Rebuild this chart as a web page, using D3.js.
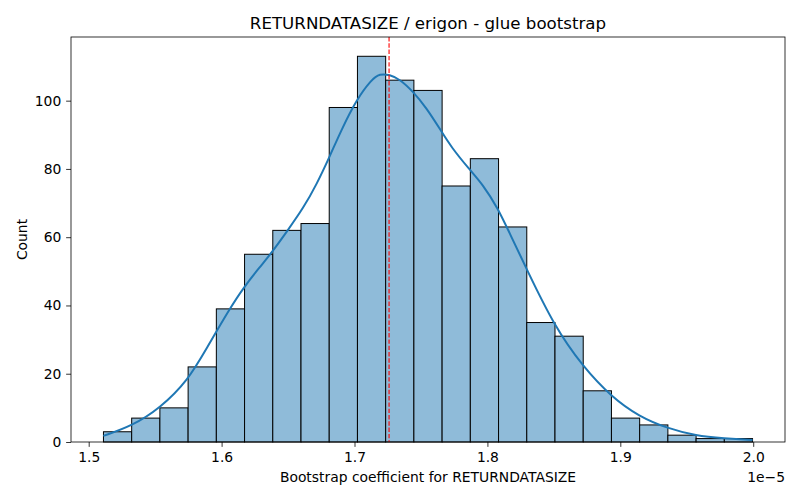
<html>
<head>
	<script src="https://d3js.org/d3.v7.min.js"></script>
	<style>
		body { margin: 0; background: #fff; overflow: hidden; }
		svg { display: block; }
		text { font-family: "DejaVu Sans", sans-serif; fill: #000; }
	</style>
</head>
<body>
	<script>
		// histogram counts (bins are equal width between dataMin and dataMax, in units of 1e-5)
		var counts = [3, 7, 10, 22, 39, 55, 62, 64, 98, 113, 106, 103, 75, 83, 63, 35, 31, 15, 7, 5, 2, 1, 1];
		var dataMin = 1.5111;
		var dataMax = 1.9995;
		var meanValue = 1.7260;

		// kde curve
		var kdeX = [1.511, 1.5325, 1.5537, 1.575, 1.5888, 1.6063, 1.6163, 1.629, 1.6364, 1.6501, 1.6614, 1.6714, 1.6814, 1.6902, 1.7015, 1.7128, 1.719, 1.7265, 1.734, 1.744, 1.7541, 1.7641, 1.7729, 1.7866, 1.7966, 1.8079, 1.8167, 1.8292, 1.8505, 1.8718, 1.8931, 1.9143, 1.9356, 1.9569, 1.9782, 1.9995];
		var kdeY = [1.8, 4.7, 9.9, 18.2, 27.5, 39.2, 45.1, 51.4, 54.8, 62.2, 68.5, 75.4, 83.7, 91.5, 100.3, 106.2, 107.9, 107.6, 106.3, 102.7, 97.9, 91.8, 86.3, 79.8, 75.4, 68.5, 61.2, 50.9, 33.8, 22.1, 13.3, 7.4, 4.0, 1.8, 1.1, 0.6];

		var xTicks = [1.5, 1.6, 1.7, 1.8, 1.9, 2.0];
		var yTicks = [0, 20, 40, 60, 80, 100];

		var outerWidth = 800;
		var outerHeight = 500;
		var margin = { left: 71, top: 37, right: 15, bottom: 58 };
		var innerWidth = outerWidth - margin.left - margin.right;
		var innerHeight = outerHeight - margin.top - margin.bottom;

		var barColor = "#8fbbd9";
		var lineColor = "#1f77b4";
		var tickLen = 4.86;
		var fontSize = 13.89;

		var svg = d3.select("body").append("svg")
			.attr("width", outerWidth)
			.attr("height", outerHeight);

		var g = svg.append("g")
			.attr("transform", "translate(" + margin.left + "," + margin.top + ")");

		var binWidth = (dataMax - dataMin) / counts.length;
		var bins = counts.map(function(c, i) {
			return { x0: dataMin + i * binWidth, x1: dataMin + (i + 1) * binWidth, count: c };
		});

		var pad = (dataMax - dataMin) * 0.05;
		var xScale = d3.scaleLinear().domain([dataMin - pad, dataMax + pad]).range([0, innerWidth]);
		var yScale = d3.scaleLinear().domain([0, d3.max(counts) * 1.05]).range([innerHeight, 0]);

		g.selectAll("rect.bar").data(bins)
			.enter().append("rect")
			.attr("class", "bar")
			.attr("x", function(d) { return xScale(d.x0); })
			.attr("y", function(d) { return yScale(d.count); })
			.attr("width", function(d) { return xScale(d.x1) - xScale(d.x0); })
			.attr("height", function(d) { return innerHeight - yScale(d.count); })
			.attr("fill", barColor)
			.attr("stroke", "#000")
			.attr("stroke-width", 1);

		var kde = kdeX.map(function(x, i) { return [x, kdeY[i]]; });
		var line = d3.line()
			.x(function(d) { return xScale(d[0]); })
			.y(function(d) { return yScale(d[1]); })
			.curve(d3.curveBasis);

		g.append("path")
			.datum(kde)
			.attr("d", line)
			.attr("fill", "none")
			.attr("stroke", lineColor)
			.attr("stroke-width", 2);

		g.append("line")
			.attr("x1", xScale(meanValue)).attr("x2", xScale(meanValue))
			.attr("y1", 0).attr("y2", innerHeight)
			.attr("stroke", "red")
			.attr("stroke-width", 1.1)
			.attr("stroke-dasharray", "4.4,1.9");

		// axes
		var xAxis = d3.axisBottom(xScale).tickValues(xTicks).tickFormat(d3.format(".1f"))
			.tickSize(tickLen).tickPadding(4.86);
		var yAxis = d3.axisLeft(yScale).tickValues(yTicks).tickSize(tickLen).tickPadding(4.86);

		var xAxisG = g.append("g").attr("transform", "translate(0," + innerHeight + ")").call(xAxis);
		var yAxisG = g.append("g").call(yAxis);
		[xAxisG, yAxisG].forEach(function(a) {
			a.select(".domain").remove();
			a.selectAll("text").style("font-size", fontSize + "px").attr("fill", "#000");
			a.selectAll("line").attr("stroke", "#000").attr("stroke-width", 0.8);
		});

		g.append("rect")
			.attr("width", innerWidth).attr("height", innerHeight)
			.attr("fill", "none").attr("stroke", "#000").attr("stroke-width", 0.8);

		svg.append("text")
			.attr("x", margin.left + innerWidth / 2).attr("y", 29)
			.attr("text-anchor", "middle")
			.style("font-size", "16.67px")
			.text("RETURNDATASIZE / erigon - glue bootstrap");

		svg.append("text")
			.attr("x", margin.left + innerWidth / 2).attr("y", 482)
			.attr("text-anchor", "middle")
			.style("font-size", fontSize + "px")
			.text("Bootstrap coefficient for RETURNDATASIZE");

		svg.append("text")
			.attr("x", margin.left + innerWidth).attr("y", 482)
			.attr("text-anchor", "end")
			.style("font-size", fontSize + "px")
			.text("1e\u22125");

		svg.append("text")
			.attr("transform", "translate(27," + (margin.top + innerHeight / 2) + ") rotate(-90)")
			.attr("text-anchor", "middle")
			.style("font-size", fontSize + "px")
			.text("Count");
	</script>
</body>
</html>
